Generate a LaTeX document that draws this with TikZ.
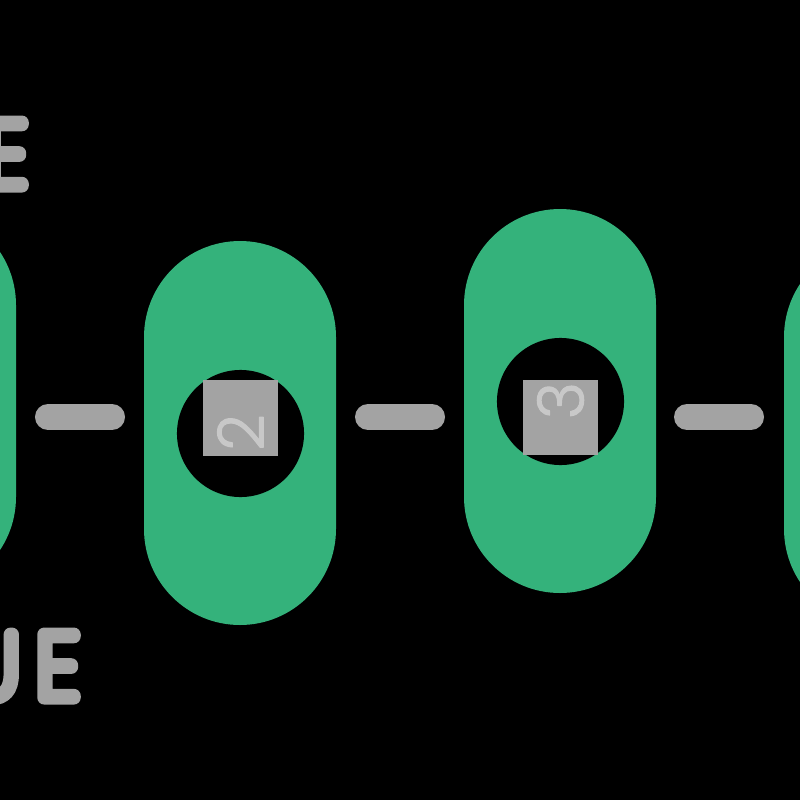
\documentclass[tikz,border=0pt]{standalone}
\usepackage{fontspec}
\setmainfont{Poppins}
\newfontfamily\digitfont{Poppins Light}
\newfontfamily\wordfont{Poppins Thin}
\definecolor{pillgreen}{HTML}{34B27B}
\definecolor{bargrey}{HTML}{A3A3A3}
\definecolor{digitgrey}{HTML}{C8C8C8}
\newcommand{\strokedtext}[1]{\special{pdf:code q 2 Tr 4.0 w 1 J 1 j 0.639 0.639 0.639 RG}#1\special{pdf:code Q}}
\newcommand{\strokeddigit}[1]{\special{pdf:code q 2 Tr 0.3 w 1 J 1 j 0.784 0.784 0.784 RG}#1\special{pdf:code Q}}
\tikzset{x=0.01cm,y=-0.01cm,
  pill/.style={fill=pillgreen,draw=none,rounded corners=0.96cm},
  bar/.style={line width=0.26cm,line cap=round,draw=bargrey},
  hole/.style={circle,fill=black,draw=none,minimum size=1.27cm,inner sep=0pt},
  tile/.style={fill=bargrey,draw=none,minimum size=0.75cm,inner sep=0pt},
  digit/.style={text=digitgrey,font=\digitfont\fontsize{18}{18}\selectfont,rotate=90,inner sep=0pt},
  word/.style={text=bargrey,font=\wordfont\fontsize{25.4}{26}\selectfont,inner sep=0pt,xscale=0.97}}
\begin{document}
\begin{tikzpicture}
\useasboundingbox (0,0) rectangle (800,800);
\clip (0,0) rectangle (800,800);
\fill[black] (0,0) rectangle (800,800);
\fill[pill] (-176,209) rectangle (16,593);
\fill[pill] (144,241) rectangle (336,625);
\fill[pill] (464,209) rectangle (656,593);
\fill[pill] (784,241) rectangle (976,625);
\node[hole] (h2) at (240.5,433.5) {};
\node[hole] (h3) at (560.5,401.5) {};
\node[tile] (t2) at (240.5,418) {};
\node[tile] (t3) at (560.5,417.5) {};
\node[digit] (d2) at (240.5,432.5) {\strokeddigit{2}};
\node[digit] (d3) at (560.5,400.5) {\strokeddigit{3}};
\coordinate (a1) at (48,417); \coordinate (a2) at (112,417);
\coordinate (b1) at (368,417); \coordinate (b2) at (432,417);
\coordinate (c1) at (687,417); \coordinate (c2) at (751,417);
\draw[bar] (a1) -- (a2);
\draw[bar] (b1) -- (b2);
\draw[bar] (c1) -- (c2);
\node[word,anchor=base east] (w1) at (27,185.5) {\strokedtext{E}};
\node[word,anchor=base east] (w2) at (79,697.5) {\strokedtext{U\kern 5.2pt E}};
\end{tikzpicture}
\end{document}
